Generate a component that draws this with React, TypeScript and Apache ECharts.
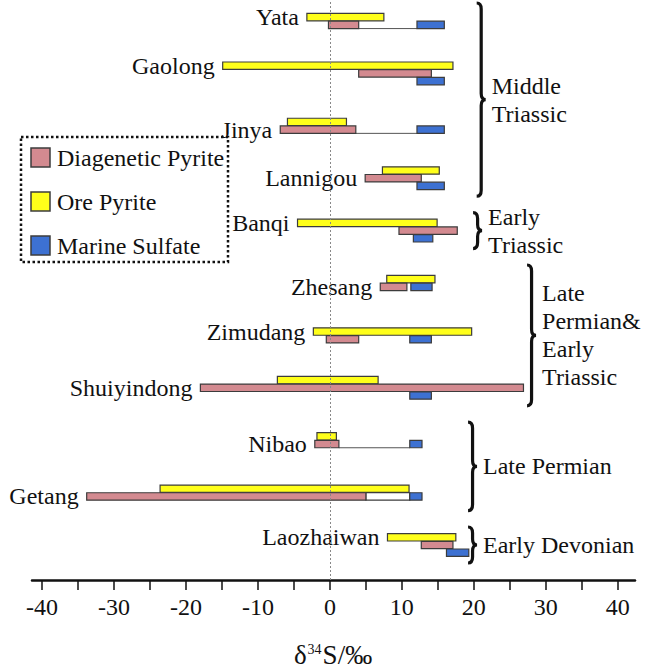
import React, { useEffect, useRef } from "react";
import * as echarts from "echarts";

// Sulfur isotope ranges (δ34S, ‰) for each deposit, as [low, high]
const SITES = [
  "Yata", "Gaolong", "Jinya", "Lannigou", "Banqi", "Zhesang",
  "Zimudang", "Shuiyindong", "Nibao", "Getang", "Laozhaiwan",
];
const DIAGENETIC_PYRITE: [number, number][] = [
  [-0.2, 4.0], [4.0, 14.1], [-6.9, 3.6], [4.9, 12.7], [9.6, 17.7], [7.0, 10.7],
  [-0.5, 4.0], [-18.0, 26.9], [-2.1, 1.25], [-33.8, 5.0], [12.7, 17.1],
];
const ORE_PYRITE: [number, number][] = [
  [-3.2, 7.5], [-14.9, 17.1], [-5.9, 2.3], [7.3, 15.2], [-4.5, 14.9], [7.9, 14.6],
  [-2.3, 19.7], [-7.3, 6.7], [-1.8, 0.9], [-23.6, 11.0], [8.0, 17.5],
];
const MARINE_SULFATE: [number, number][] = [
  [12.1, 15.9], [12.1, 15.9], [12.1, 15.9], [12.1, 15.9], [11.6, 14.3], [11.25, 14.2],
  [11.1, 14.1], [11.1, 14.1], [11.1, 12.8], [11.1, 12.8], [16.2, 19.3],
];
const X_TICKS = [-40, -35, -30, -25, -20, -15, -10, -5, 0, 5, 10, 15, 20, 25, 30, 35, 40];
const X_LABELS = [-40, -30, -20, -10, 0, 10, 20, 30, 40];

// Geological periods grouping consecutive deposits
const PERIODS = [
  { lines: ["Middle", "Triassic"], first: 0, last: 3 },
  { lines: ["Early", "Triassic"], first: 4, last: 4 },
  { lines: ["Late", "Permian&", "Early", "Triassic"], first: 5, last: 7 },
  { lines: ["Late Permian"], first: 8, last: 9 },
  { lines: ["Early Devonian"], first: 10, last: 10 },
];
// horizontal anchor of each brace, in δ34S units
const BRACE_AT = [20.4, 19.9, 27.4, 19.2, 19.2];

// deposits where pyrite and sulfate ranges are joined by a guide
const LINKS: Record<string, "line" | "box"> = {
  Yata: "line", Jinya: "line", Nibao: "line", Getang: "box",
};

const LEGEND_ITEMS = ["Diagenetic Pyrite", "Ore Pyrite", "Marine Sulfate"];

const FONT = "24px 'Liberation Serif', serif";
const INK = "#111";
const PINK = "#d38a90";
const YELLOW = "#ffff1a";
const BLUE = "#3d71d2";
const EDGE = "#3c3c3c";
const ROW = 7.7;
const BAR_H = 7.4;
const Y_MIN = -0.363;
const Y_MAX = 10.668;

// serif text, set through a rich-text token
function serifText(text: string, extra: any = {}, lineHeight?: number) {
  const body = text.split("\n").map((l) => `{s|${l}}`).join("\n");
  return {
    text: body,
    fill: INK,
    font: FONT,
    rich: { s: { font: FONT, fill: INK, ...(lineHeight ? { lineHeight } : {}) } },
    ...extra,
  };
}

// row offsets (in rows) of each material for every deposit
function rowLayout(i: number) {
  const sulfateOwnRow = MARINE_SULFATE[i][0] < DIAGENETIC_PYRITE[i][1];
  if (sulfateOwnRow) return { ore: -1, dia: 0, mar: 1 };
  return { ore: -0.5, dia: 0.5, mar: 0.5 };
}

function barRender(color: string) {
  return (_params: any, api: any) => {
    const lo = api.value(0);
    const hi = api.value(1);
    const idx = api.value(2);
    const off = api.value(3);
    const p1 = api.coord([lo, idx]);
    const p2 = api.coord([hi, idx]);
    return {
      type: "rect",
      shape: { x: p1[0], y: p1[1] + off * ROW - BAR_H / 2, width: p2[0] - p1[0], height: BAR_H },
      style: { fill: color, stroke: EDGE, lineWidth: 1.2 },
    };
  };
}

export default function App() {
  const ref = useRef<HTMLDivElement>(null);

  useEffect(() => {
    if (!ref.current) return;
    const chart = echarts.init(ref.current, null, { renderer: "svg" });

    const layouts = SITES.map((_, i) => rowLayout(i));
    const diaData = DIAGENETIC_PYRITE.map((r, i) => [r[0], r[1], i, layouts[i].dia]);
    const oreData = ORE_PYRITE.map((r, i) => [r[0], r[1], i, layouts[i].ore]);
    const marData = MARINE_SULFATE.map((r, i) => [r[0], r[1], i, layouts[i].mar]);

    const linkData: any[] = [];
    SITES.forEach((s, i) => {
      if (LINKS[s]) {
        linkData.push([DIAGENETIC_PYRITE[i][1], MARINE_SULFATE[i][0], i, layouts[i].dia, LINKS[s] === "box" ? 1 : 0]);
      }
    });

    const labelData = SITES.map((_, i) => {
      const oreLo = ORE_PYRITE[i][0];
      const diaLo = DIAGENETIC_PYRITE[i][0];
      const lo = Math.min(oreLo, diaLo);
      return [lo, i, oreLo <= diaLo ? layouts[i].ore : layouts[i].dia];
    });

    const periodData = PERIODS.map((p, k) => [BRACE_AT[k], p.first, p.last]);
    const legendColors = [PINK, YELLOW, BLUE];

    // legend: swatches and names inside a dotted frame
    const legendGraphic: any[] = [
      {
        type: "rect",
        shape: { x: 21, y: 137, width: 207, height: 125 },
        style: { fill: "none", stroke: INK, lineWidth: 2.5, lineDash: [2.5, 2.5] },
        silent: true,
      },
    ];
    LEGEND_ITEMS.forEach((name, k) => {
      const cy = 157.5 + k * 44;
      legendGraphic.push({
        type: "rect",
        shape: { x: 31, y: cy - 9.5, width: 19, height: 19 },
        style: { fill: legendColors[k], stroke: EDGE, lineWidth: 1.5 },
        silent: true,
      });
      legendGraphic.push({
        type: "text",
        x: 57,
        y: cy,
        style: serifText(name, { align: "left", verticalAlign: "middle" }),
        silent: true,
      });
    });

    chart.setOption({
      animation: false,
      grid: { left: 32, right: 25, top: 2, bottom: 89 },
      xAxis: {
        type: "value",
        min: -41.4,
        max: 42.4,
        splitLine: { show: false },
        axisLine: { show: true, onZero: false, lineStyle: { color: INK, width: 2.5 } },
        axisTick: {
          show: true,
          customValues: X_TICKS,
          length: 10,
          lineStyle: { color: INK, width: 1.5 },
        },
        axisLabel: { show: false },
      },
      yAxis: {
        type: "value",
        inverse: true,
        min: Y_MIN,
        max: Y_MAX,
        show: false,
      },
      graphic: [
        ...legendGraphic,
        {
          type: "text",
          x: 333,
          y: 655,
          silent: true,
          style: {
            text: "{a|δ}{b|34}{a|S/‰}",
            align: "center",
            verticalAlign: "middle",
            fill: INK,
            font: "27px 'Liberation Serif', serif",
            rich: {
              a: { font: "27px 'Liberation Serif', serif", fill: INK },
              b: { font: "14px 'Liberation Serif', serif", fill: INK, padding: [0, 1, 12, 1] },
            },
          },
        },
      ],
      series: [
        {
          type: "custom",
          name: "links",
          z: 1,
          silent: true,
          encode: { x: [0, 1], y: 2 },
          data: linkData,
          renderItem: (_params: any, api: any) => {
            const p1 = api.coord([api.value(0), api.value(2)]);
            const p2 = api.coord([api.value(1), api.value(2)]);
            const yc = p1[1] + api.value(3) * ROW;
            if (api.value(4) === 1) {
              return {
                type: "rect",
                shape: { x: p1[0], y: yc - BAR_H / 2, width: p2[0] - p1[0], height: BAR_H },
                style: { fill: "#fff", stroke: EDGE, lineWidth: 1.2 },
              };
            }
            return {
              type: "line",
              shape: { x1: p1[0], y1: yc + BAR_H / 2, x2: p2[0], y2: yc + BAR_H / 2 },
              style: { stroke: "#555", lineWidth: 1 },
            };
          },
          markLine: {
            silent: true,
            symbol: ["none", "none"],
            label: { show: false },
            lineStyle: { color: "#888", width: 1, type: [2, 2] },
            data: [{ xAxis: 0 }],
          },
        },
        {
          type: "custom",
          name: "Ore Pyrite",
          z: 3,
          encode: { x: [0, 1], y: 2 },
          data: oreData,
          renderItem: barRender(YELLOW),
        },
        {
          type: "custom",
          name: "Diagenetic Pyrite",
          z: 3,
          encode: { x: [0, 1], y: 2 },
          data: diaData,
          renderItem: barRender(PINK),
        },
        {
          type: "custom",
          name: "Marine Sulfate",
          z: 3,
          encode: { x: [0, 1], y: 2 },
          data: marData,
          renderItem: barRender(BLUE),
        },
        {
          // tick labels of the δ34S axis
          type: "custom",
          name: "xLabels",
          silent: true,
          encode: { x: 0, y: 1 },
          data: X_LABELS.map((v) => [v, Y_MAX]),
          renderItem: (params: any, api: any) => {
            const p = api.coord([api.value(0), api.value(1)]);
            return {
              type: "text",
              x: p[0],
              y: p[1] + 27,
              style: serifText(String(X_LABELS[params.dataIndex]), { align: "center", verticalAlign: "middle" }),
            };
          },
        },
        {
          type: "custom",
          name: "sites",
          z: 4,
          silent: true,
          encode: { x: 0, y: 1 },
          data: labelData,
          renderItem: (params: any, api: any) => {
            const p = api.coord([api.value(0), api.value(1)]);
            return {
              type: "text",
              x: p[0] - 8,
              y: p[1] + api.value(2) * ROW,
              style: serifText(SITES[params.dataIndex], { align: "right", verticalAlign: "middle" }),
            };
          },
        },
        {
          type: "custom",
          name: "periods",
          z: 4,
          silent: true,
          encode: { x: 0, y: [1, 2] },
          data: periodData,
          renderItem: (params: any, api: any) => {
            const top = api.coord([api.value(0), api.value(1)]);
            const bot = api.coord([api.value(0), api.value(2)]);
            const x0 = top[0];
            const y0 = top[1] - 18;
            const y1 = bot[1] + 18;
            const ym = (y0 + y1) / 2;
            const w = 9;
            const xm = x0 + w / 2;
            const r = 6;
            const d =
              `M${x0} ${y0} Q${xm} ${y0} ${xm} ${y0 + r} L${xm} ${ym - r} ` +
              `Q${xm} ${ym} ${x0 + w} ${ym} Q${xm} ${ym} ${xm} ${ym + r} ` +
              `L${xm} ${y1 - r} Q${xm} ${y1} ${x0} ${y1}`;
            return {
              type: "group",
              children: [
                {
                  type: "path",
                  shape: { pathData: d },
                  style: { fill: "none", stroke: INK, lineWidth: 3.2 },
                },
                {
                  type: "text",
                  x: x0 + w + 6,
                  y: ym,
                  style: serifText(
                    PERIODS[params.dataIndex].lines.join("\n"),
                    { align: "left", verticalAlign: "middle" },
                    28,
                  ),
                },
              ],
            };
          },
        },
      ],
    });

    return () => chart.dispose();
  }, []);

  return <div ref={ref} style={{ width: 660, height: 669, position: "absolute", left: 0, top: 0 }} />;
}
